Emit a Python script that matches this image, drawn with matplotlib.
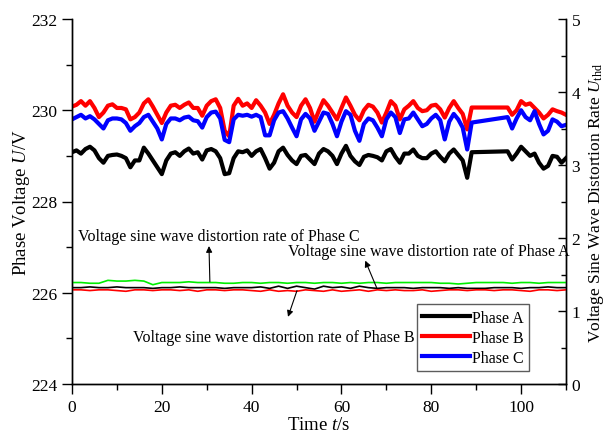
import matplotlib
matplotlib.use("Agg")
import matplotlib.pyplot as plt

plt.rcParams['font.family'] = ['Liberation Serif', 'DejaVu Serif']
plt.rcParams['mathtext.fontset'] = 'custom'
plt.rcParams['mathtext.rm'] = 'Liberation Serif'
plt.rcParams['mathtext.it'] = 'Liberation Serif:italic'

# ---------------- data ----------------
time = list(range(0, 90)) + list(range(97, 111))

phase_a = [229.08, 229.12, 229.05, 229.15, 229.20, 229.12, 228.95, 228.85, 229.00, 229.02,
           229.03, 229.00, 228.95, 228.75, 228.90, 228.90, 229.18, 229.05, 228.90, 228.75,
           228.60, 228.90, 229.05, 229.08, 229.00, 229.10, 229.16, 229.05, 229.08, 228.92,
           229.12, 229.15, 229.10, 228.95, 228.60, 228.62, 228.95, 229.10, 229.08, 229.12,
           229.00, 229.10, 229.15, 228.95, 228.72, 228.85, 229.10, 229.18, 229.02, 228.90,
           228.82, 229.00, 229.02, 228.92, 228.82, 229.05, 229.15, 229.10, 229.00, 228.82,
           229.05, 229.22, 229.00, 228.88, 228.80, 228.98, 229.02, 229.00, 228.97, 228.90,
           229.10, 229.15, 228.98, 228.85, 229.05, 229.05, 229.14, 229.00, 228.95, 228.95,
           229.05, 229.10, 228.98, 228.88, 229.05, 229.14, 229.02, 228.90, 228.52, 229.08,
           229.10, 228.92, 229.05, 229.20, 229.10, 229.00, 229.05, 228.85, 228.72, 228.78,
           229.00, 228.98, 228.85, 228.95]

phase_b = [230.08, 230.12, 230.20, 230.10, 230.20, 230.05, 229.85, 229.95, 230.10, 230.13,
           230.05, 230.05, 230.02, 229.80, 229.85, 229.95, 230.15, 230.24, 230.08, 229.90,
           229.72, 229.95, 230.10, 230.12, 230.05, 230.12, 230.17, 230.05, 230.05, 229.88,
           230.10, 230.20, 230.24, 230.05, 229.55, 229.43, 230.10, 230.25, 230.10, 230.15,
           230.05, 230.22, 230.10, 229.95, 229.70, 229.90, 230.15, 230.35, 230.10, 229.95,
           229.85, 230.10, 230.24, 230.05, 229.75, 230.00, 230.22, 230.10, 229.95, 229.80,
           230.05, 230.28, 230.10, 229.90, 229.78, 230.00, 230.12, 230.08, 229.95, 229.73,
           229.95, 230.20, 230.10, 229.80, 230.02, 230.10, 230.20, 230.05, 229.98, 230.00,
           230.10, 230.12, 230.02, 229.84, 230.05, 230.20, 230.05, 229.92, 229.58, 230.06,
           230.06, 229.90, 230.00, 230.20, 230.12, 230.15, 230.05, 229.95, 229.82, 229.90,
           230.02, 229.98, 229.95, 229.90]

phase_c = [229.80, 229.85, 229.90, 229.82, 229.87, 229.80, 229.70, 229.60, 229.78, 229.82,
           229.82, 229.80, 229.72, 229.55, 229.65, 229.72, 229.85, 229.90, 229.75, 229.60,
           229.36, 229.70, 229.82, 229.82, 229.78, 229.84, 229.86, 229.78, 229.76, 229.62,
           229.85, 229.95, 229.97, 229.82, 229.35, 229.30, 229.80, 229.90, 229.88, 229.90,
           229.86, 229.90, 229.85, 229.45, 229.45, 229.78, 229.95, 229.98, 229.82, 229.62,
           229.43, 229.80, 229.92, 229.82, 229.55, 229.75, 229.95, 229.92, 229.70, 229.43,
           229.75, 229.98, 229.90, 229.55, 229.33, 229.70, 229.82, 229.78, 229.62, 229.43,
           229.80, 229.95, 229.85, 229.50, 229.80, 229.82, 229.95, 229.80, 229.65, 229.70,
           229.82, 229.90, 229.78, 229.36, 229.75, 229.92, 229.80, 229.62, 229.14, 229.73,
           229.85, 229.60, 229.82, 230.00, 229.85, 229.78, 229.98, 229.70, 229.47, 229.55,
           229.80, 229.75, 229.65, 229.68]

thd_time = list(range(0, 111, 2))

thd_a = [1.32, 1.32, 1.33, 1.32, 1.32, 1.33, 1.32, 1.32, 1.32, 1.31,
         1.32, 1.32, 1.33, 1.32, 1.32, 1.32, 1.32, 1.31, 1.32, 1.32,
         1.32, 1.33, 1.31, 1.34, 1.31, 1.34, 1.32, 1.30, 1.34, 1.32,
         1.33, 1.31, 1.34, 1.32, 1.31, 1.32, 1.32, 1.32, 1.31, 1.32,
         1.32, 1.32, 1.31, 1.32, 1.31, 1.31, 1.31, 1.32, 1.32, 1.32,
         1.31, 1.32, 1.32, 1.33, 1.32, 1.32]

thd_b = [1.29, 1.29, 1.28, 1.29, 1.29, 1.28, 1.27, 1.29, 1.29, 1.28,
         1.29, 1.29, 1.28, 1.29, 1.27, 1.29, 1.29, 1.28, 1.29, 1.29,
         1.28, 1.27, 1.29, 1.27, 1.28, 1.27, 1.29, 1.28, 1.27, 1.29,
         1.27, 1.28, 1.29, 1.27, 1.29, 1.28, 1.29, 1.28, 1.28, 1.29,
         1.27, 1.28, 1.29, 1.29, 1.28, 1.29, 1.29, 1.28, 1.29, 1.29,
         1.28, 1.27, 1.29, 1.29, 1.28, 1.29]

thd_c = [1.39, 1.39, 1.38, 1.38, 1.42, 1.41, 1.41, 1.42, 1.41, 1.36,
         1.39, 1.39, 1.39, 1.40, 1.39, 1.39, 1.39, 1.38, 1.38, 1.39,
         1.39, 1.38, 1.39, 1.39, 1.38, 1.39, 1.39, 1.38, 1.39, 1.39,
         1.38, 1.39, 1.38, 1.39, 1.39, 1.38, 1.39, 1.39, 1.39, 1.39,
         1.39, 1.38, 1.38, 1.37, 1.38, 1.39, 1.39, 1.39, 1.39, 1.38,
         1.39, 1.39, 1.38, 1.39, 1.39, 1.39]

phase_labels = ['Phase A', 'Phase B', 'Phase C']
x_ticks = [0, 20, 40, 60, 80, 100]
y_left_ticks = [224, 226, 228, 230, 232]
y_right_ticks = [0, 1, 2, 3, 4, 5]

# ---------------- figure ----------------
W, H = 608, 435
fig = plt.figure(figsize=(W / 100, H / 100), dpi=100)
ax = fig.add_axes([72 / W, 1 - 385 / H, 494 / W, 365 / H])
ax2 = ax.twinx()

lw_main = 3.0
l1, = ax.plot(time, phase_a, color='black', lw=lw_main, label=phase_labels[0])
l2, = ax.plot(time, phase_b, color='#ff0000', lw=lw_main, label=phase_labels[1])
l3, = ax.plot(time, phase_c, color='#0000ff', lw=lw_main, label=phase_labels[2])

ax2.plot(thd_time, thd_c, color='#00ee00', lw=1.2)
ax2.plot(thd_time, thd_a, color='black', lw=1.2)
ax2.plot(thd_time, thd_b, color='#ff0000', lw=1.2)

ax.set_xlim(0, 110)
ax.set_ylim(224, 232)
ax2.set_ylim(0, 5)
ax.set_xticks(x_ticks)
ax.set_xticks([10, 30, 50, 70, 90, 110], minor=True)
ax.set_yticks(y_left_ticks)
ax.set_yticks([225, 227, 229, 231], minor=True)
ax2.set_yticks(y_right_ticks)
ax2.set_yticks([0.5, 1.5, 2.5, 3.5, 4.5], minor=True)

for a in (ax, ax2):
    a.spines['top'].set_visible(False)
    for s in a.spines.values():
        s.set_linewidth(1.0)

ax.tick_params(axis='both', which='major', direction='out', length=7, width=1,
               labelsize=12.5)
ax.tick_params(axis='both', which='minor', direction='out', length=4, width=1)
ax2.tick_params(axis='y', which='major', direction='in', length=6, width=1,
                labelsize=12.5, pad=4)
ax2.tick_params(axis='y', which='minor', direction='in', length=3.5, width=1)

ax.set_xlabel('Time $t$/s', fontsize=13.5, labelpad=1)
ax.set_ylabel('Phase Voltage $U$/V', fontsize=13.5)
ax2.set_ylabel('Voltage Sine Wave Distortion Rate $U_{\\mathrm{thd}}$', fontsize=12.5)
ax.yaxis.set_label_coords(-0.08, 0.5)
ax2.yaxis.set_label_coords(1.04, 0.5)

leg = ax.legend(handles=[l1, l2, l3], loc='lower right',
                bbox_to_anchor=(0.925, 0.035), fontsize=11.5, frameon=True,
                fancybox=False, edgecolor='#333333', handlelength=3.0,
                handletextpad=0.1, borderpad=0.35, labelspacing=0.25,
                borderaxespad=0)
leg.get_frame().set_linewidth(1.0)

ann_kw = dict(fontsize=11.5, ha='left', va='center',
              arrowprops=dict(arrowstyle='-|>', color='black', lw=0.8,
                              mutation_scale=9, shrinkA=0, shrinkB=0))
ax2.annotate('', xy=(30.5, 1.89), xytext=(30.7, 1.40), **ann_kw)
ax2.text(1.3, 2.03, 'Voltage sine wave distortion rate of Phase C',
         fontsize=11.5, ha='left', va='center')
ax2.annotate('', xy=(65.3, 1.69), xytext=(67.9, 1.31), **ann_kw)
ax2.text(48.1, 1.82, 'Voltage sine wave distortion rate of Phase A',
         fontsize=11.5, ha='left', va='center', clip_on=False)
ax2.annotate('', xy=(48.1, 0.92), xytext=(50.1, 1.28), **ann_kw)
ax2.text(13.6, 0.64, 'Voltage sine wave distortion rate of Phase B',
         fontsize=11.5, ha='left', va='center')

fig.savefig('out.png', dpi=100)
